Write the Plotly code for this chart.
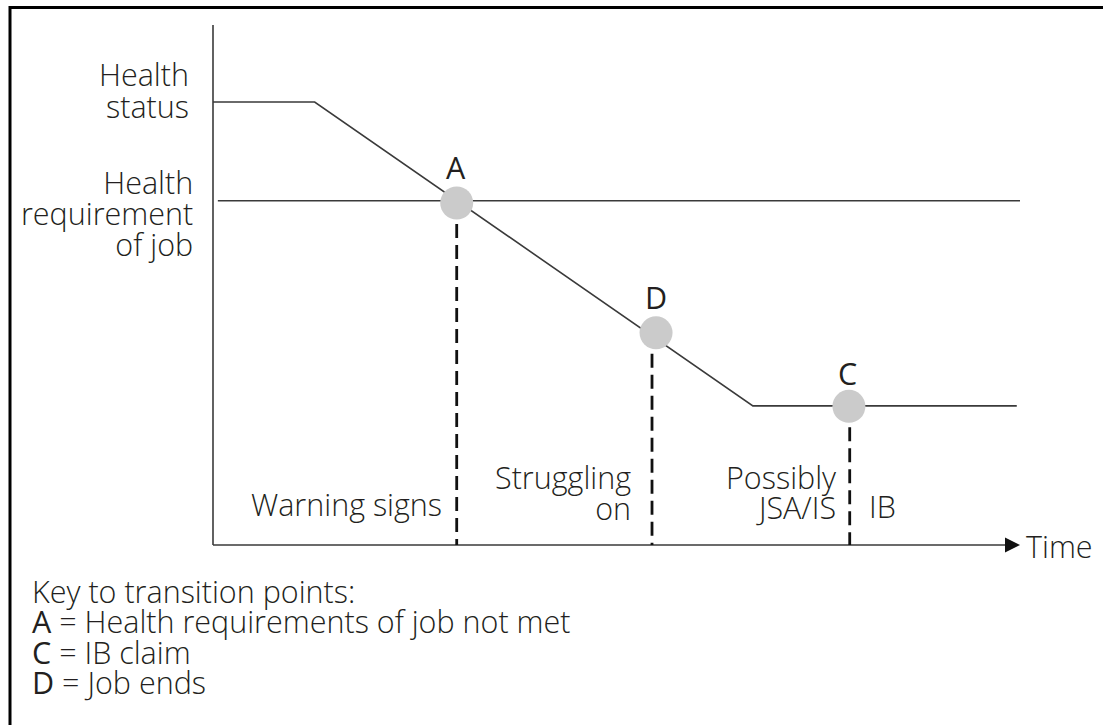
import plotly.graph_objects as go

W, H = 1103, 725

# ---------------- data (abstract units: time 0..100, health 0..100) ----------------
time_status = [0, 12.6, 66.9, 99.6]
health_status = [100, 100, 31.4, 31.4]
time_requirement = [0.6, 100]
health_requirement = [77.7, 77.7]

point_labels = ["A", "D", "C"]
point_time = [30.2, 54.9, 78.8]
point_health = [77.2, 47.9, 31.3]
transition_time = [30.2, 54.4, 78.9]

axis_time_max = 100.0
axis_health_max = 117.4

y_label_status = ["Health", "status"]
y_label_requirement = ["Health", "requirement", "of job"]
phase_warning = ["Warning signs"]
phase_struggling = ["Struggling", "on"]
phase_possibly = ["Possibly", "JSA/IS"]
phase_ib = ["IB"]
x_label = "Time"
key_letters = ["A", "C", "D"]
key_meanings = ["Health requirements of job not met", "IB claim", "Job ends"]
key_title = "Key to transition points:"

# ---------------- scale ----------------
X0_PX, Y0_PX = 213, 545
PX_PER_T, PX_PER_H = 8.07, 4.43
x_range = [-X0_PX / PX_PER_T, (W - X0_PX) / PX_PER_T]
y_range = [-(H - Y0_PX) / PX_PER_H, Y0_PX / PX_PER_H]

FONT = "Open Sans, Noto Sans, sans-serif"
FS = 30.5
WEIGHT = 300
TXT = "#231f20"
LINE = "#3a3a3a"

fig = go.Figure()

# axes
fig.add_trace(go.Scatter(x=[0, 0], y=[0, axis_health_max], mode="lines",
                         line=dict(color=LINE, width=1.6), hoverinfo="skip"))
fig.add_trace(go.Scatter(x=[0, axis_time_max - 1.5], y=[0, 0], mode="lines",
                         line=dict(color=LINE, width=1.6), hoverinfo="skip"))
fig.add_trace(go.Scatter(x=[axis_time_max], y=[0], mode="markers",
                         marker=dict(symbol="arrow-right", size=15, color="#111",
                                     line=dict(width=0)), hoverinfo="skip"))

# health requirement
fig.add_trace(go.Scatter(x=time_requirement, y=health_requirement, mode="lines",
                         line=dict(color=LINE, width=1.6), hoverinfo="skip"))
# health status
fig.add_trace(go.Scatter(x=time_status, y=health_status, mode="lines",
                         line=dict(color=LINE, width=1.6), hoverinfo="skip"))

# dashed transitions
dx, dy = [], []
for t, h in zip(transition_time, point_health):
    dx += [t, t, None]
    dy += [h, 0, None]
fig.add_trace(go.Scatter(x=dx, y=dy, mode="lines",
                         line=dict(color="#111", width=2.8, dash="14px,7px"),
                         hoverinfo="skip"))

# transition points
fig.add_trace(go.Scatter(x=point_time, y=point_health, mode="markers",
                         marker=dict(size=33, color="#cbcbcb", line=dict(width=0)),
                         hoverinfo="skip"))


def P(x, y):
    return x / W, 1 - y / H


def text(lines, x, y, xanchor="left", spacing=None, weight=WEIGHT):
    """lines: list of str; y = cap-middle of first line (px)."""
    if isinstance(lines, str):
        lines = [lines]
    n = len(lines)
    if spacing is None or n == 1:
        base = FS
        body = lines[0]
        yc = y
    else:
        base = spacing / 1.3
        body = "<br>".join(f'<span style="font-size:{FS}px">{s}</span>' for s in lines)
        yc = y + spacing * (n - 1) / 2
    px, py = P(x, yc)
    fig.add_annotation(x=px, y=py, xref="paper", yref="paper", text=body,
                       showarrow=False, xanchor=xanchor, yanchor="middle",
                       align=xanchor if xanchor != "center" else "center",
                       borderpad=0, borderwidth=0,
                       font=dict(family=FONT, size=base, color=TXT, weight=weight))


# y labels
text(y_label_status, 189, 74, "right", spacing=32)
text(y_label_requirement, 193, 182, "right", spacing=31)

# point labels
label_pos = [(456, 167), (656, 297), (847, 373)]
for s, (x, y) in zip(point_labels, label_pos):
    text(s, x, y, "center", weight=400)

# phase labels
text(phase_warning, 442, 504, "right")
text(phase_struggling, 631, 477, "right", spacing=31)
text(phase_possibly, 837, 477, "right", spacing=30)
text(phase_ib, 869, 506, "left")
text(x_label, 1026, 546, "left")

# key
key_lines = [key_title] + [
    f'<span style="font-weight:400">{l}</span> = {m}' for l, m in zip(key_letters, key_meanings)
]
text(key_lines, 32, 591, "left", spacing=30.3)

# outer frame
fig.add_shape(type="rect", xref="paper", yref="paper",
              x0=10 / W, x1=1.2, y0=-0.2, y1=1 - 7.5 / H,
              line=dict(color="#000", width=3))

fig.update_layout(
    width=W, height=H,
    margin=dict(l=0, r=0, t=0, b=0),
    paper_bgcolor="white", plot_bgcolor="white",
    showlegend=False,
    xaxis=dict(range=x_range, visible=False, fixedrange=True),
    yaxis=dict(range=y_range, visible=False, fixedrange=True),
)

fig.write_html(
    "out.html",
    config={"displayModeBar": False},
    post_script="document.body.style.margin='0px';document.body.style.overflow='hidden';",
)
